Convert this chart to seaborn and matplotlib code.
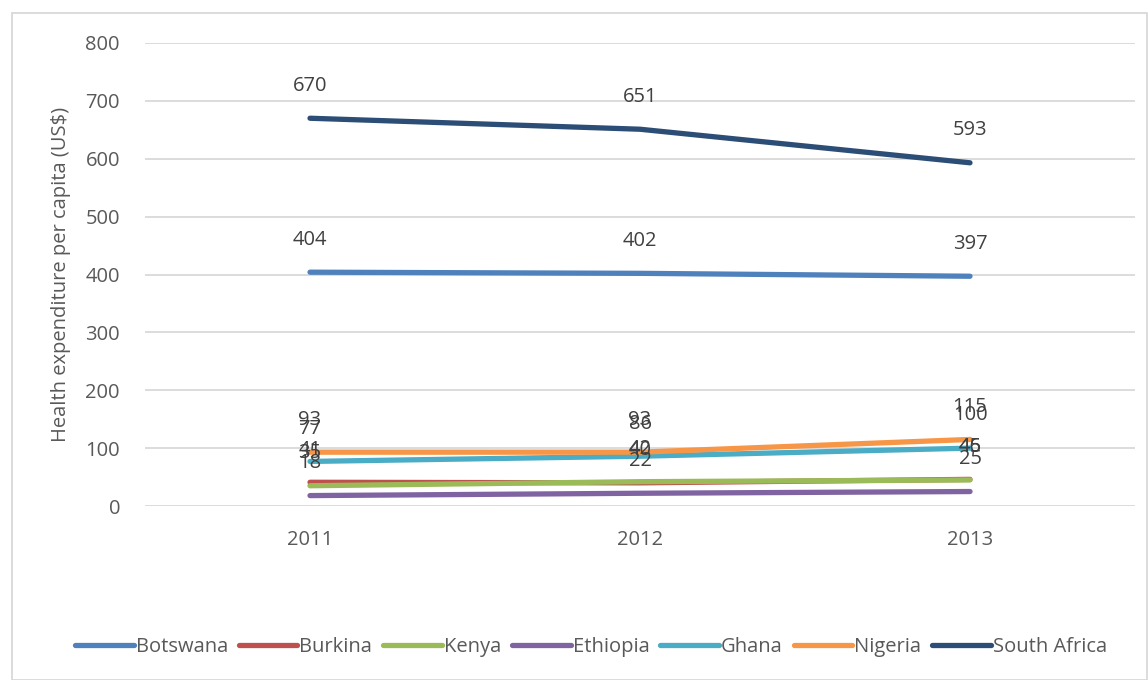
import matplotlib
matplotlib.use("Agg")
import matplotlib.pyplot as plt
import seaborn as sns
import pandas as pd
from matplotlib.patches import Rectangle

years = ["2011", "2012", "2013"]
countries = ["Botswana", "Burkina", "Kenya", "Ethiopia", "Ghana", "Nigeria", "South Africa"]
botswana = [404, 402, 397]
burkina = [41, 40, 46]
kenya = [35, 42, 45]
ethiopia = [18, 22, 25]
ghana = [77, 86, 100]
nigeria = [93, 93, 115]
south_africa = [670, 651, 593]
colors = ["#4F81BD", "#C0504D", "#9BBB59", "#8064A2", "#4BACC6", "#F79646", "#2C4D75"]

series = [botswana, burkina, kenya, ethiopia, ghana, nigeria, south_africa]
rows = []
for c, vals in zip(countries, series):
    for y, v in zip(years, vals):
        rows.append({"Year": y, "Country": c, "Value": v})
df = pd.DataFrame(rows)

sns.set_style("white")
plt.rcParams["font.family"] = ["Open Sans", "DejaVu Sans"]
txt = "#595959"
fs = 14.5

fig = plt.figure(figsize=(11.48, 6.8), dpi=100)
ax = fig.add_axes([145/1148, 1 - 506/680, (1135-145)/1148, (506-43)/680])

sns.lineplot(data=df, x="Year", y="Value", hue="Country", hue_order=countries,
             palette=colors, linewidth=3.8, ax=ax, sort=False,
             solid_capstyle="round")

for c, vals in zip(countries, series):
    for i, v in enumerate(vals):
        ax.annotate(str(v), (i, v), xytext=(0, 23.5), textcoords="offset points",
                    ha="center", va="center", fontsize=fs, color="#404040")

ax.set_xlim(-0.5, 2.5)
ax.set_ylim(0, 800)
ax.set_yticks(range(0, 801, 100))
ax.grid(axis="y", color="#D9D9D9", linewidth=1.3)
ax.set_axisbelow(True)
for s in ax.spines.values():
    s.set_visible(False)
ax.tick_params(axis="y", length=0, labelsize=fs, labelcolor=txt, pad=18)
ax.tick_params(axis="x", length=0, labelsize=fs, labelcolor=txt, pad=17)
ax.set_xlabel("")
ax.set_ylabel("Health expenditure per capita (US\\$)", fontsize=fs, color=txt, labelpad=10)

leg = ax.legend(loc="center", bbox_to_anchor=(591/1148, 1 - 647/680), bbox_transform=fig.transFigure,
                ncol=7, frameon=False, fontsize=fs, handlelength=2.9, handletextpad=0.1,
                columnspacing=0.55)
for t in leg.get_texts():
    t.set_color(txt)
for h in leg.get_lines():
    h.set_linewidth(3.8)

fig.patches.append(Rectangle((12/1148, 0), (1147-12)/1148, 1 - 13/680, transform=fig.transFigure,
                             fill=False, edgecolor="#D9D9D9", linewidth=1.3))

fig.savefig("out.png", dpi=100)
